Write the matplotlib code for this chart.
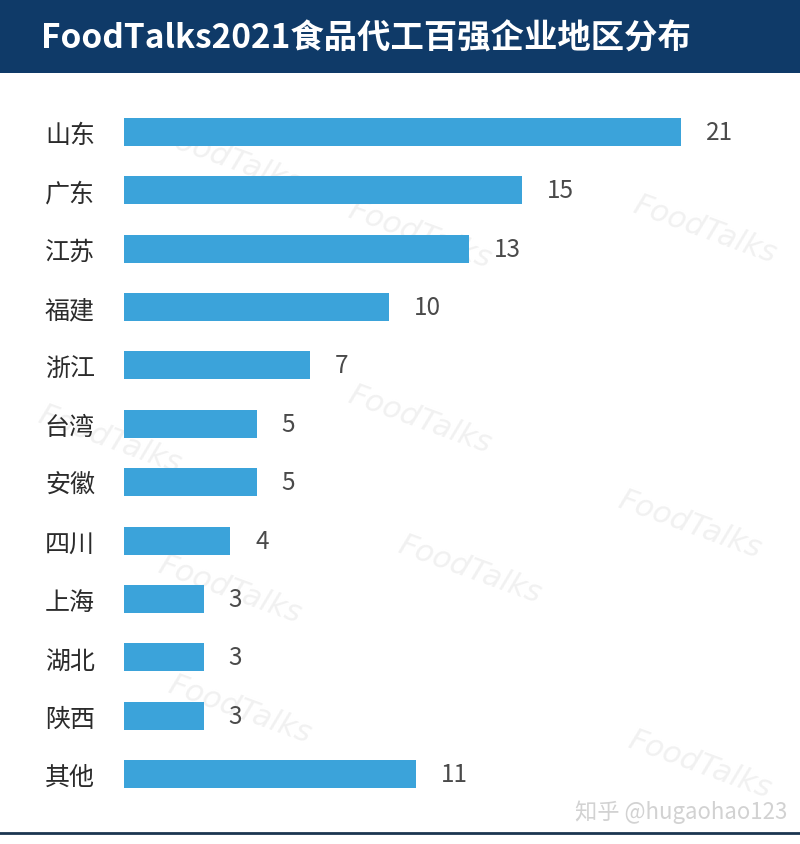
import matplotlib
matplotlib.use("Agg")
import matplotlib.pyplot as plt

plt.rcParams['font.family'] = ['Noto Sans CJK SC', 'DejaVu Sans']

categories = ["山东", "广东", "江苏", "福建", "浙江", "台湾", "安徽", "四川", "上海", "湖北", "陕西", "其他"]
values = [21, 15, 13, 10, 7, 5, 5, 4, 3, 3, 3, 11]
title = "FoodTalks2021食品代工百强企业地区分布"

W, H = 800, 845
fig = plt.figure(figsize=(W / 100, H / 100), dpi=100)
fig.patch.set_facecolor("white")

# watermarks (behind everything)
wm = [(420, 420), (690, 525), (470, 570), (230, 590), (705, 230), (420, 235),
      (700, 765), (240, 710), (230, 160), (110, 440)]
for (x, y) in wm:
    fig.text(x / W, 1 - y / H, "FoodTalks", color="#f1f1f1", fontsize=22, fontstyle="italic",
             rotation=-20, ha="center", va="center", zorder=-5, family="DejaVu Sans")

# header band
hdr = fig.add_axes([0, 1 - 74 / H, 1, 74 / H])
hdr.set_facecolor("#0f3a68")
hdr.set_xticks([]); hdr.set_yticks([])
for s in hdr.spines.values():
    s.set_visible(False)
fig.text(41 / W, 1 - 39 / H, title, color="white", fontsize=24, fontweight="bold",
         va="center", ha="left")

# main axes
top, bottom = 103.8, 804.2
left = 124
ppu = 26.5
xmax = 25
ax = fig.add_axes([left / W, 1 - bottom / H, xmax * ppu / W, (bottom - top) / H])
ax.patch.set_alpha(0)
y = list(range(len(categories)))
ax.barh(y, values, height=0.48, color="#3ba3da", zorder=2)
ax.set_ylim(len(categories) - 0.5, -0.5)
ax.set_xlim(0, xmax)
ax.set_yticks(y)
ax.set_yticklabels(categories, fontsize=18, color="#2b2b2b")
ax.tick_params(axis="y", length=0, pad=21)
ax.set_xticks([])
for s in ax.spines.values():
    s.set_visible(False)
for yi, v in zip(y, values):
    ax.annotate(str(v), (v, yi), xytext=(18, 0), textcoords="offset points",
                ha="left", va="center", fontsize=17.5, color="#4a4a4a")

# bottom rule
fig.add_artist(plt.Line2D([0, 1], [1 - 834 / H, 1 - 834 / H], color="#1b3550", lw=2))

# corner watermark
fig.text(575 / W, 1 - 812 / H, "知乎 @hugaohao123", color="#d2d2d2", fontsize=16,
         ha="left", va="center")

fig.savefig("out.png", dpi=100)
